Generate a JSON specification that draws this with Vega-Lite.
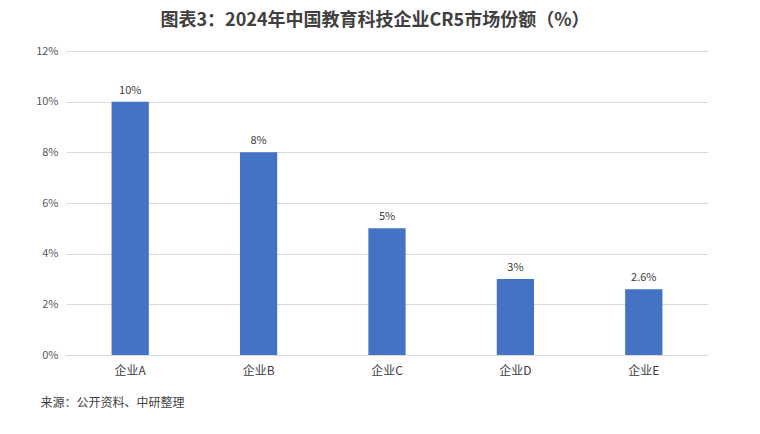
{
  "$schema": "https://vega.github.io/schema/vega-lite/v6.json",
  "width": 642,
  "height": 304,
  "autosize": {"type": "none"},
  "padding": {"left": 66, "top": 51, "right": 52, "bottom": 79},
  "background": "white",
  "title": {
    "text": "图表3：2024年中国教育科技企业CR5市场份额（%）",
    "font": "Noto Sans CJK SC",
    "fontSize": 18,
    "fontWeight": "bold",
    "color": "#404040",
    "anchor": "middle",
    "dx": -12,
    "offset": 15
  },
  "data": {
    "values": [
      {"company": "企业A", "share": 0.10},
      {"company": "企业B", "share": 0.08},
      {"company": "企业C", "share": 0.05},
      {"company": "企业D", "share": 0.03},
      {"company": "企业E", "share": 0.026}
    ]
  },
  "encoding": {
    "x": {
      "field": "company",
      "type": "nominal",
      "sort": null,
      "scale": {"paddingInner": 0.71, "paddingOuter": 0.355},
      "axis": {
        "title": "来源：公开资料、中研整理",
        "titleAnchor": "start",
        "titleAlign": "left",
        "titleX": -26,
        "titleY": 42,
        "titleFont": "Noto Sans CJK SC",
        "titleFontSize": 12,
        "titleFontWeight": "normal",
        "titleColor": "#404040",
        "labelAngle": 0,
        "labelFont": "Noto Sans CJK SC",
        "labelFontSize": 12,
        "labelColor": "#404040",
        "labelPadding": 10,
        "ticks": false,
        "domainColor": "#d9d9d9"
      }
    },
    "y": {
      "field": "share",
      "type": "quantitative",
      "scale": {"domain": [0, 0.12]},
      "axis": {
        "title": null,
        "format": ".0%",
        "values": [0, 0.02, 0.04, 0.06, 0.08, 0.1, 0.12],
        "labelFont": "Noto Sans CJK SC",
        "labelFontSize": 11,
        "labelColor": "#595959",
        "labelPadding": 8,
        "ticks": false,
        "domain": false,
        "gridColor": "#d9d9d9"
      }
    }
  },
  "layer": [
    {"mark": {"type": "bar", "color": "#4472C4"}},
    {
      "mark": {
        "type": "text",
        "baseline": "bottom",
        "dy": -6,
        "font": "Noto Sans CJK SC",
        "fontSize": 11,
        "color": "#404040"
      },
      "encoding": {"text": {"field": "share", "type": "quantitative", "format": ".1~%"}}
    }
  ],
  "config": {"view": {"stroke": null}}
}
